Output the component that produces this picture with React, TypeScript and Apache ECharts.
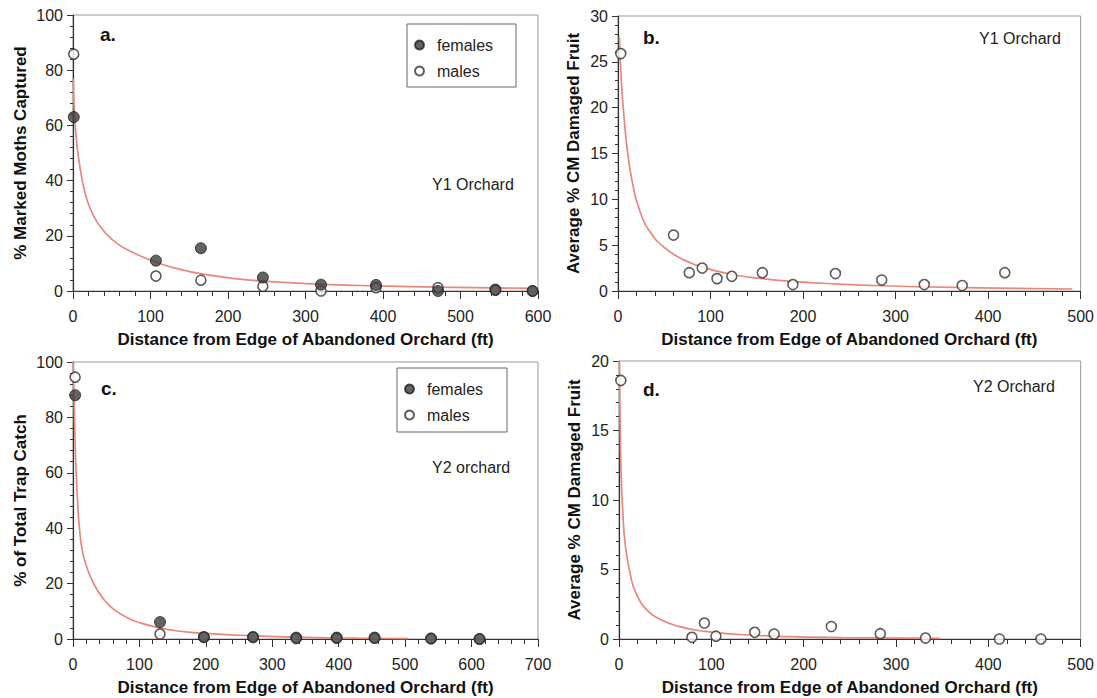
import React, { useEffect, useRef } from "react";
import * as echarts from "echarts";

// ---------- Data ----------
// Panel a (Y1 orchard, % marked moths captured)
const aFemales: [number, number][] = [
  [1, 63], [107, 11], [165, 15.5], [245, 4.9], [320, 2.3], [391, 2.2], [471, 0], [545, 0.5], [593, 0],
];
const aMales: [number, number][] = [
  [1, 85.8], [107, 5.4], [165, 3.9], [245, 1.7], [320, 0], [391, 1.2], [471, 1.2], [545, 0.3], [593, 0],
];
const aCurve: [number, number][] = [
  [0.5, 77], [1, 70], [2, 64], [4, 56], [7, 48.5], [11, 41.5], [16, 35], [22, 30], [30, 25.5],
  [42, 21], [58, 17], [80, 13.6], [107, 10.4], [136, 8.0], [166, 6.2], [206, 4.6], [245, 3.6],
  [300, 2.7], [370, 2.0], [470, 1.4], [598, 0.95],
];

// Panel b (Y1 orchard, average % CM damaged fruit)
const bPoints: [number, number][] = [
  [3, 25.9], [60, 6.1], [77, 2.0], [91, 2.5], [107, 1.35], [123, 1.6], [156, 2.0], [189, 0.7],
  [235, 1.9], [285, 1.2], [331, 0.7], [372, 0.6], [418, 2.0],
];
const bCurve: [number, number][] = [
  [1.5, 27.7], [3.8, 22.6], [6.5, 19], [10.3, 15.2], [16, 11.6], [23.7, 8.7], [35, 6.4], [50.6, 4.7],
  [70, 3.45], [91, 2.6], [123, 1.8], [156, 1.35], [189, 1.05], [234, 0.78], [284, 0.57], [372, 0.37], [491, 0.22],
];

// Panel c (Y2 orchard, % of total trap catch)
const cFemales: [number, number][] = [
  [3.2, 88], [131, 6.1], [197, 0.6], [271, 0.6], [336, 0.5], [397, 0.5], [454, 0.5], [539, 0.2], [612, 0],
];
const cMales: [number, number][] = [
  [3.2, 94.5], [131, 1.8], [197, 0.8], [271, 0.8], [336, 0.2], [397, 0.3], [454, 0.3], [539, 0.1], [612, 0],
];
const cCurve: [number, number][] = [
  [0.5, 100], [1.2, 90], [2.2, 80], [3.3, 70], [4.8, 60], [6.8, 50], [9.7, 40], [14, 32], [20, 26.5],
  [28, 21.5], [37, 17.5], [48, 13.8], [61, 10.8], [81, 7.8], [100, 5.9], [130, 4.0], [161, 2.8],
  [200, 2.0], [267, 1.2], [348, 0.62], [428, 0.3], [504, 0.15],
];

// Panel d (Y2 orchard, average % CM damaged fruit)
const dPoints: [number, number][] = [
  [2, 18.6], [79, 0.12], [92.5, 1.15], [105, 0.2], [147, 0.48], [168, 0.36], [230, 0.9],
  [283, 0.38], [332, 0.07], [412, 0], [457, 0],
];
const dCurve: [number, number][] = [
  [0.4, 20], [1.2, 15.5], [2.3, 11.9], [4.2, 9.05], [6.9, 6.7], [12.7, 4.5], [18.4, 3.3], [30, 2.1],
  [45, 1.4], [64.5, 0.91], [91, 0.56], [126, 0.34], [183, 0.17], [241, 0.1], [348, 0.05],
];

const xTitle = "Distance from Edge of Abandoned Orchard (ft)";
const yTitles = [
  "% Marked Moths Captured",
  "Average % CM Damaged Fruit",
  "% of Total Trap Catch",
  "Average % CM Damaged Fruit",
];
const xMax = [600, 500, 700, 500];
const yMax = [100, 30, 100, 20];
const yInterval = [20, 5, 20, 5];
const panelLetters = ["a.", "b.", "c.", "d."];
const orchardLabels = ["Y1 Orchard", "Y1 Orchard", "Y2 orchard", "Y2 Orchard"];
const legendNames = ["females", "males"];

const FONT = "'Liberation Sans', Arial, Helvetica, sans-serif";
const CURVE_COLOR = "#e8877a";
const DARK = "#333333";

const grids = [
  { left: 73, right: 559, top: 15, bottom: 407 },
  { left: 618, right: 16, top: 16, bottom: 407 },
  { left: 73, right: 559, top: 362, bottom: 59 },
  { left: 619, right: 16, top: 361, bottom: 59 },
];
const xNameGaps = [40, 40, 40, 40];
const yNameGaps = [44, 36, 44, 36];

const letterPos = [
  [100, 35], [643, 38], [101, 389], [643, 390],
];
const orchardPos = [
  [432, 185], [979, 39], [432, 468], [973, 387],
];

export default function App() {
  const ref = useRef<HTMLDivElement>(null);
  useEffect(() => {
    if (!ref.current) return;
    const chart = echarts.init(ref.current, undefined, { renderer: "svg" });

    const xAxis = grids.map((_, i) => ({
      type: "value",
      gridIndex: i,
      min: 0,
      max: xMax[i],
      interval: 100,
      name: xTitle,
      nameLocation: "middle",
      nameGap: xNameGaps[i],
      nameTextStyle: { fontFamily: FONT, fontWeight: "bold", fontSize: 17, color: "#111" },
      axisLine: { show: true, onZero: false, lineStyle: { color: DARK, width: 1.2 } },
      axisTick: { show: true, length: 8, lineStyle: { color: DARK } },
      minorTick: { show: true, splitNumber: 5, length: 5, lineStyle: { color: DARK } },
      splitLine: { show: false },
      axisLabel: { fontFamily: FONT, fontSize: 16, color: "#222", margin: 17 },
    }));
    const yAxis = grids.map((_, i) => ({
      type: "value",
      gridIndex: i,
      min: 0,
      max: yMax[i],
      interval: yInterval[i],
      name: yTitles[i],
      nameLocation: "middle",
      nameGap: yNameGaps[i],
      nameTextStyle: { fontFamily: FONT, fontWeight: "bold", fontSize: 17, color: "#111" },
      axisLine: { show: true, onZero: false, lineStyle: { color: DARK, width: 1.2 } },
      axisTick: { show: true, length: 6, lineStyle: { color: DARK } },
      minorTick: { show: true, splitNumber: 5, length: 3, lineStyle: { color: DARK } },
      splitLine: { show: false },
      axisLabel: { fontFamily: FONT, fontSize: 16, color: "#222", margin: 10 },
    }));

    const filled = (name: string, data: [number, number][], i: number) => ({
      type: "scatter",
      name,
      xAxisIndex: i,
      yAxisIndex: i,
      data,
      symbol: "circle",
      symbolSize: 11,
      itemStyle: { color: "#3c3c3c", borderColor: "#222", borderWidth: 1 },
      z: 4,
    });
    const open = (name: string, data: [number, number][], i: number) => ({
      type: "scatter",
      name,
      xAxisIndex: i,
      yAxisIndex: i,
      data,
      symbol: "circle",
      symbolSize: 10,
      itemStyle: { color: "#ffffff", borderColor: "#333", borderWidth: 1.6 },
      z: 3,
    });
    const curve = (data: [number, number][], i: number) => ({
      type: "line",
      name: "fit" + i,
      xAxisIndex: i,
      yAxisIndex: i,
      data,
      smooth: 0.5,
      showSymbol: false,
      symbol: "none",
      lineStyle: { color: CURVE_COLOR, width: 1.7 },
      z: 2,
    });

    const legendBase = {
      orient: "vertical",
      data: legendNames,
      icon: "circle",
      itemWidth: 25,
      itemHeight: 9,
      itemGap: 10,
      symbolKeepAspect: true,
      borderColor: "#666",
      borderWidth: 1,
      backgroundColor: "#fff",
      textStyle: { fontFamily: FONT, fontSize: 16, color: "#222" },
      selectedMode: false,
    };

    const graphic: any[] = [];
    panelLetters.forEach((t, i) => {
      graphic.push({
        type: "text",
        left: letterPos[i][0],
        top: letterPos[i][1] - 10,
        style: { text: t, font: `bold 19px ${FONT}`, fill: "#111" },
      });
      graphic.push({
        type: "text",
        left: orchardPos[i][0],
        top: orchardPos[i][1] - 9,
        style: { text: orchardLabels[i], font: `16px ${FONT}`, fill: "#222" },
      });
    });

    chart.setOption({
      animation: false,
      backgroundColor: "#ffffff",
      grid: grids.map((g) => ({ ...g, show: true, borderColor: "#999", borderWidth: 1, backgroundColor: "transparent" })),
      xAxis,
      yAxis,
      legend: [
        { ...legendBase, left: 407, top: 24, padding: [13, 23, 8, 7] },
        { ...legendBase, left: 397, top: 368, padding: [13, 24, 9, 7] },
      ],
      series: [
        curve(aCurve, 0),
        open("males", aMales, 0),
        filled("females", aFemales, 0),
        curve(bCurve, 1),
        open("damaged", bPoints, 1),
        curve(cCurve, 2),
        open("males", cMales, 2),
        filled("females", cFemales, 2),
        curve(dCurve, 3),
        open("damaged2", dPoints, 3),
      ],
      graphic,
    });
    return () => chart.dispose();
  }, []);
  return (
    <div
      ref={ref}
      style={{ position: "fixed", left: 0, top: 0, width: 1097, height: 698, background: "#fff" }}
    />
  );
}
